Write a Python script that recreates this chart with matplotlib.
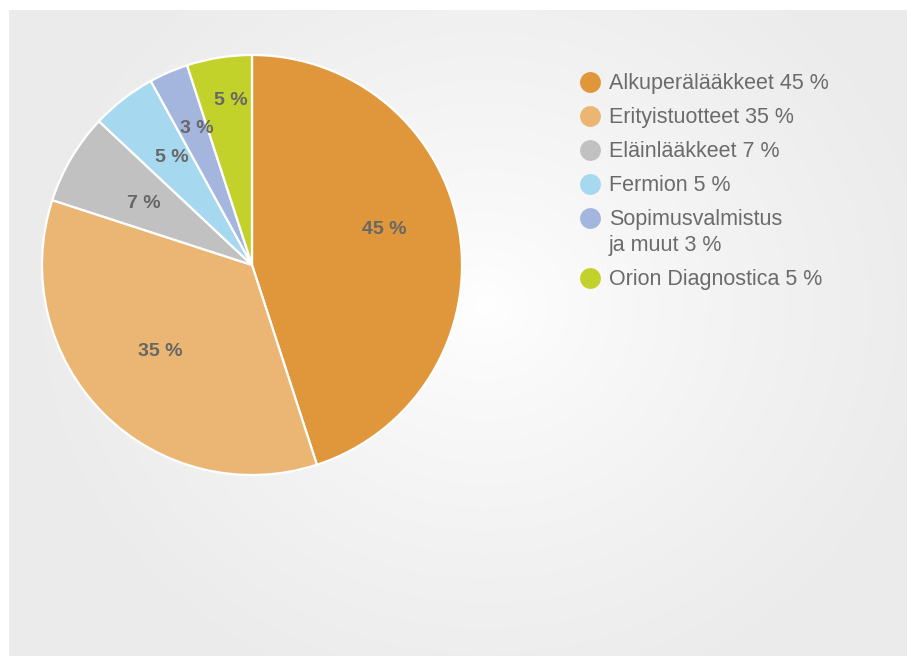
import numpy as np
import matplotlib
matplotlib.use("Agg")
import matplotlib.pyplot as plt

categories = ["Alkuperälääkkeet", "Erityistuotteet", "Eläinlääkkeet", "Fermion",
              "Sopimusvalmistus\nja muut", "Orion Diagnostica"]
values = [45, 35, 7, 5, 3, 5]
colors = ["#E0963A", "#EBB574", "#C1C1C1", "#A6D8EF", "#A4B6DE", "#C3D22A"]
label_dist = [0.65, 0.60, 0.59, 0.64, 0.70, 0.79]
label_dang = [6, -1.5, 1, -1, -1.5, -1.7]

W, H = 907, 656
fig = plt.figure(figsize=(W / 100, H / 100), dpi=100)
fig.patch.set_facecolor("white")

# background panel with radial gradient
bg = fig.add_axes([0, 0, 1, 1])
yy, xx = np.mgrid[0:H, 0:W]
d = np.sqrt((xx - 480) ** 2 + ((yy - 300) * 1.1) ** 2)
t = np.clip(d / 450, 0, 1) ** 0.8
g = 1.0 - t * (1.0 - 0.925)
img = np.dstack([g, g, g])
bg.imshow(img, extent=(9, W, H, 10), origin="upper", zorder=0, interpolation="bilinear")
bg.set_xlim(0, W)
bg.set_ylim(H, 0)
bg.axis("off")

# pie
cx, cy, r = 252, 265, 210
ax = fig.add_axes([(cx - r) / W, 1 - (cy + r) / H, 2 * r / W, 2 * r / H])
wedges, _ = ax.pie(values, colors=colors, startangle=90, counterclock=False, radius=1.0,
                   wedgeprops=dict(edgecolor="white", linewidth=1.6))
ax.set_xlim(-1, 1)
ax.set_ylim(-1, 1)
ax.axis("off")
for w, v, dist, da in zip(wedges, values, label_dist, label_dang):
    ang = np.deg2rad((w.theta1 + w.theta2) / 2 + da)
    ax.text(dist * np.cos(ang), dist * np.sin(ang), f"{v} %", ha="center", va="center",
            fontsize=14, fontweight="bold", color="#676767", family="Liberation Sans")

# legend
lx, ty = 590, 82
y = ty
for cat, v, c in zip(categories, values, colors):
    bg.scatter([lx], [y], s=225, color=c, zorder=3, linewidths=0)
    lines = f"{cat} {v} %".split("\n")
    for i, line in enumerate(lines):
        bg.text(lx + 19, y + 7 + 26 * i, line, ha="left", va="baseline", fontsize=15.5,
                color="#6b6b6b", family="Liberation Sans", zorder=3)
    y += 34 + 26 * (len(lines) - 1)

fig.savefig("out.png", dpi=100, facecolor="white")
